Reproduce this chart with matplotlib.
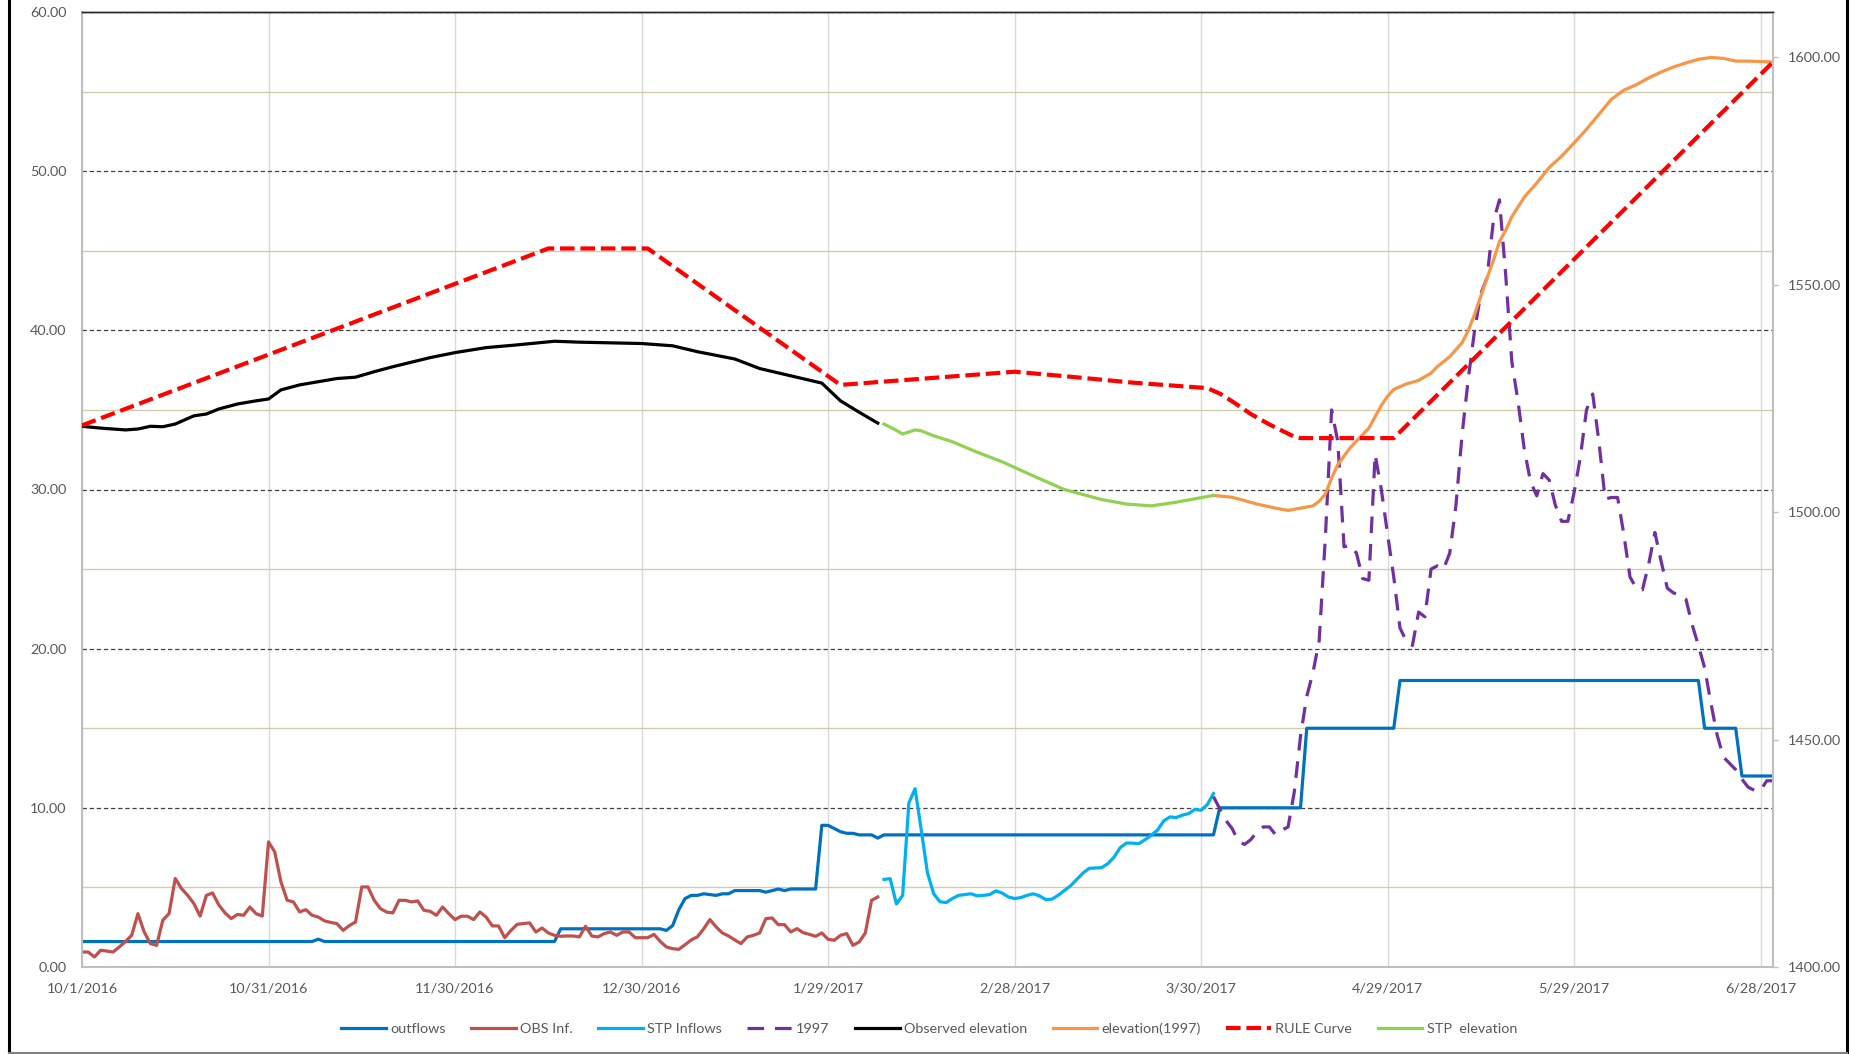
import matplotlib

matplotlib.use("Agg")
import matplotlib.pyplot as plt
from matplotlib.lines import Line2D
from matplotlib.ticker import MultipleLocator, FuncFormatter, FixedLocator
import pandas as pd

plt.rcParams["font.family"] = ["Lato", "DejaVu Sans"]

START = pd.Timestamp("2016-10-01")
END_DAY = 272  # 6/30/2017

# --- left axis (flows), day offsets from 10/1/2016 ---
outflow_days = [0, 37, 38, 39, 76, 77, 93, 94, 95, 96, 97, 98, 99, 100, 101, 102, 103, 104, 105, 109, 110,
                111, 112, 113, 114, 118, 119, 120, 121, 122, 123, 124, 125, 127, 128, 129, 182, 183, 196, 197,
                211, 212, 260, 261, 266, 267, 272]
outflow_vals = [1.6, 1.6, 1.75, 1.6, 1.6, 2.4, 2.4, 2.3, 2.6, 3.6, 4.3, 4.5, 4.5, 4.6, 4.55, 4.5, 4.6, 4.6, 4.8,
                4.8, 4.7, 4.8, 4.9, 4.8, 4.9, 4.9, 8.9, 8.9, 8.7, 8.5, 8.4, 8.4, 8.3, 8.3, 8.1, 8.3, 8.3, 10.0,
                10.0, 15.0, 15.0, 18.0, 18.0, 15.0, 15.0, 12.0, 12.0]

obs_inf_start = 0
obs_inf_vals = [0.94, 0.94, 0.63, 1.05, 1.0, 0.94, 1.26, 1.6, 2.0, 3.35, 2.2, 1.47, 1.36, 2.94, 3.35, 5.56,
                4.93, 4.5, 3.98, 3.2, 4.5, 4.65, 3.9, 3.4, 3.04, 3.3, 3.25, 3.77, 3.35, 3.2, 7.86, 7.23, 5.35,
                4.19, 4.09, 3.46, 3.6, 3.25, 3.14, 2.9, 2.8, 2.73, 2.3, 2.6, 2.83, 5.03, 5.03, 4.19, 3.67, 3.45,
                3.4, 4.19, 4.19, 4.09, 4.15, 3.56, 3.5, 3.25, 3.77, 3.35, 2.98, 3.19, 3.19, 2.98, 3.46, 3.14,
                2.58, 2.58, 1.84, 2.3, 2.68, 2.73, 2.77, 2.2, 2.45, 2.14, 1.99, 1.93, 1.95, 1.95, 1.89, 2.56,
                1.95, 1.89, 2.1, 2.2, 1.99, 2.2, 2.2, 1.84, 1.84, 1.84, 2.05, 1.61, 1.26, 1.15, 1.11, 1.4, 1.7,
                1.9, 2.4, 2.98, 2.52, 2.14, 1.95, 1.7, 1.47, 1.89, 1.99, 2.14, 3.04, 3.08, 2.66, 2.66, 2.2,
                2.41, 2.16, 2.05, 1.93, 2.14, 1.74, 1.68, 1.99, 2.1, 1.36, 1.57, 2.14, 4.19, 4.4]

stp_inf_start = 129
stp_inf_vals = [5.5, 5.55, 3.96, 4.5, 10.3, 11.2, 8.6, 5.9, 4.6, 4.1, 4.05, 4.3, 4.5, 4.55, 4.6, 4.47, 4.5,
                4.55, 4.78, 4.65, 4.4, 4.3, 4.36, 4.5, 4.6, 4.47, 4.24, 4.26, 4.5, 4.8, 5.1, 5.5, 5.9, 6.2,
                6.22, 6.24, 6.49, 6.9, 7.5, 7.79, 7.78, 7.75, 8.0, 8.28, 8.6, 9.18, 9.43, 9.39, 9.54, 9.64,
                9.9, 9.85, 10.2, 10.9]

flow_1997_start = 182
flow_1997_vals = [10.7, 9.95, 9.2, 8.7, 7.9, 7.7, 8.0, 8.5, 8.8, 8.8, 8.3, 8.6, 8.8, 11.0, 14.5, 17.0, 18.5,
                  20.5, 27.0, 35.0, 33.0, 26.4, 26.5, 26.0, 24.4, 24.3, 32.2, 30.0, 27.2, 24.5, 21.3, 20.5,
                  20.2, 22.3, 22.0, 25.0, 25.2, 25.0, 26.0, 29.0, 33.5, 37.0, 40.0, 42.3, 43.3, 46.8, 48.2,
                  43.5, 38.0, 35.5, 32.5, 30.5, 29.6, 31.0, 30.6, 29.0, 28.0, 28.0, 29.8, 32.0, 35.0, 36.0,
                  33.0, 29.4, 29.5, 29.5, 27.2, 24.5, 23.8, 23.7, 25.3, 27.3, 25.5, 23.8, 23.5, 23.4, 23.1,
                  21.5, 20.2, 18.8, 16.6, 14.6, 13.2, 12.8, 12.4, 11.8, 11.3, 11.1, 11.1, 11.7, 11.7]

# --- right axis (elevations) ---
obs_elev_days = [0, 3, 7, 9, 11, 13, 15, 18, 20, 22, 25, 28, 30, 32, 35, 38, 41, 44, 47, 50, 56, 60, 65, 70,
                 76, 80, 90, 95, 99, 105, 109, 114, 119, 122, 125, 128]
obs_elev_vals = [1518.9, 1518.5, 1518.1, 1518.3, 1518.9, 1518.8, 1519.4, 1521.2, 1521.6, 1522.7, 1523.8,
                 1524.5, 1524.9, 1526.9, 1528.0, 1528.7, 1529.4, 1529.7, 1530.9, 1532.0, 1534.0, 1535.1,
                 1536.2, 1536.8, 1537.6, 1537.4, 1537.1, 1536.6, 1535.3, 1533.7, 1531.6, 1530.0, 1528.4,
                 1524.5, 1522.0, 1519.6]

elev_1997_days = [182, 185, 189, 192, 194, 196, 198, 199, 200, 201, 202, 204, 207, 209, 210, 211, 213, 215,
                  217, 218, 220, 222, 223, 224, 225, 226, 227, 228, 229, 230, 232, 234, 236, 238, 240, 242,
                  244, 246, 248, 250, 252, 254, 256, 258, 260, 262, 264, 266, 268, 270, 272]
elev_1997_vals = [1503.7, 1503.3, 1501.8, 1500.9, 1500.4, 1500.9, 1501.4, 1502.4, 1504.0, 1507.5, 1510.5,
                  1514.2, 1518.5, 1523.5, 1525.5, 1527.0, 1528.2, 1529.0, 1530.6, 1532.0, 1534.2, 1537.3,
                  1540.0, 1543.5, 1547.5, 1551.5, 1555.3, 1559.5, 1562.0, 1565.0, 1569.3, 1572.4, 1575.8,
                  1578.3, 1581.2, 1584.2, 1587.5, 1590.8, 1592.8, 1594.0, 1595.5, 1596.8, 1597.9, 1598.8,
                  1599.6, 1600.0, 1599.8, 1599.2, 1599.2, 1599.1, 1599.0]

rule_days = [0, 75, 91, 122, 150, 159, 169, 181, 183, 185, 188, 191, 195, 196, 211, 272]
rule_vals = [1519.1, 1558.0, 1558.0, 1528.0, 1530.9, 1529.8, 1528.5, 1527.3, 1526.1, 1524.4, 1521.6,
             1519.3, 1516.6, 1516.3, 1516.3, 1599.0]

stp_elev_days = [129, 131, 132, 134, 135, 137, 140, 144, 148, 153, 158, 164, 168, 172, 176, 180, 182]
stp_elev_vals = [1519.4, 1518.0, 1517.2, 1518.1, 1517.9, 1516.8, 1515.5, 1513.2, 1511.1, 1508.0, 1505.0,
                 1502.8, 1501.8, 1501.4, 1502.2, 1503.2, 1503.7]


def dates(days):
    return [START + pd.Timedelta(days=d) for d in days]


def daily(start, vals):
    return dates(range(start, start + len(vals)))


W, H = 1858, 1054
fig = plt.figure(figsize=(W / 100, H / 100), dpi=100)
fig.subplots_adjust(left=82 / W, right=1773 / W, top=1 - 12 / H, bottom=1 - 967 / H)
ax = fig.add_subplot(1, 1, 1)
ax2 = ax.twinx()

lw = 2.3
ax.plot(dates(outflow_days), outflow_vals, color="#0070C0", lw=lw, label="outflows")
ax.plot(daily(obs_inf_start, obs_inf_vals), obs_inf_vals, color="#C0504D", lw=lw, label="OBS Inf.")
ax.plot(daily(stp_inf_start, stp_inf_vals), stp_inf_vals, color="#00B0F0", lw=lw, label="STP Inflows")
ax.plot(daily(flow_1997_start, flow_1997_vals), flow_1997_vals, color="#7030A0", lw=2.3,
        linestyle=(0, (5.2, 3.4)), label="1997")

ax2.plot(dates(obs_elev_days), obs_elev_vals, color="black", lw=lw, label="Observed elevation")
ax2.plot(dates(elev_1997_days), elev_1997_vals, color="#F79646", lw=lw, label="elevation(1997)")
ax2.plot(dates(rule_days), rule_vals, color="#FF0000", lw=3.0, linestyle=(0, (3.5, 1.4)), label="RULE Curve")
ax2.plot(dates(stp_elev_days), stp_elev_vals, color="#92D050", lw=lw, label="STP  elevation")

# axes
ax.set_xlim(START, START + pd.Timedelta(days=END_DAY))
ax.set_ylim(0, 60)
ax2.set_ylim(1400, 1610)

tick_dates = dates(range(0, END_DAY, 30))
ax.xaxis.set_major_locator(FixedLocator(matplotlib.dates.date2num(tick_dates)))
ax.xaxis.set_major_formatter(FuncFormatter(
    lambda v, p: (lambda d: f"{d.month}/{d.day}/{d.year}")(matplotlib.dates.num2date(v))))

ax.yaxis.set_major_locator(MultipleLocator(10))
ax.yaxis.set_minor_locator(MultipleLocator(5))
ax.yaxis.set_major_formatter(FuncFormatter(lambda v, p: f"{v:.2f}"))
ax2.yaxis.set_major_locator(MultipleLocator(50))
ax2.yaxis.set_major_formatter(FuncFormatter(lambda v, p: f"{v:.2f}"))

ax.grid(axis="y", which="major", color="#404040", linestyle=(0, (3.5, 2.2)), lw=0.9)
ax.grid(axis="y", which="minor", color="#D3CCAA", lw=1.0)
ax.grid(axis="x", which="major", color="#D9D9D9", lw=1.0)
ax.set_axisbelow(True)

tick_color = "#595959"
fs = 10.4
ax.tick_params(axis="y", which="both", length=0, pad=11, labelsize=fs, labelcolor=tick_color)
ax.tick_params(axis="x", length=0, pad=11, labelsize=fs, labelcolor=tick_color)
ax2.tick_params(axis="y", length=3.5, width=1, color="#BFBFBF", pad=7, labelsize=fs, labelcolor=tick_color)

for name in ["left", "bottom"]:
    ax.spines[name].set_color("#BFBFBF")
    ax.spines[name].set_linewidth(1.5)
ax.spines["right"].set_visible(False)
ax.spines["top"].set_color("#262626")
ax.spines["top"].set_linewidth(1.0)
for name in ["left", "bottom"]:
    ax2.spines[name].set_visible(False)
ax2.spines["top"].set_color("#262626")
ax2.spines["top"].set_linewidth(1.0)
ax2.spines["right"].set_color("#BFBFBF")
ax2.spines["right"].set_linewidth(1.5)

h1, l1 = ax.get_legend_handles_labels()
h2, l2 = ax2.get_legend_handles_labels()
leg = fig.legend(h1 + h2, l1 + l2, loc="center", bbox_to_anchor=(0.5, 1 - 1029 / H), ncol=8,
                 frameon=False, fontsize=fs, handlelength=3.1, handletextpad=0.3, columnspacing=1.75)
for t in leg.get_texts():
    t.set_color(tick_color)

# chart frame
fig.add_artist(Line2D([8.5 / W, 8.5 / W], [0, 1], transform=fig.transFigure, color="black", lw=2.2))
fig.add_artist(Line2D([1847 / W, 1847 / W], [0, 1], transform=fig.transFigure, color="black", lw=2.2))
fig.add_artist(Line2D([8.5 / W, 1847 / W], [1.5 / H, 1.5 / H], transform=fig.transFigure, color="#808080",
                      lw=1.5))

fig.savefig("out.png", dpi=100)
